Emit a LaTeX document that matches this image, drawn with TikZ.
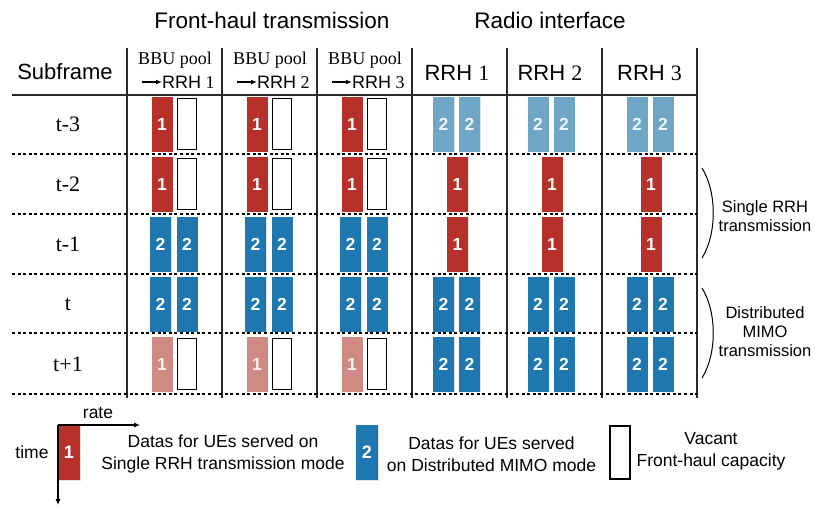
\documentclass[tikz,border=0pt]{standalone}
\usepackage{fontspec}
\setmainfont{Liberation Serif}
\setsansfont{Liberation Sans}
\usetikzlibrary{arrows.meta,shadows}
\definecolor{redblk}{HTML}{B8302A}
\definecolor{blueblk}{HTML}{1E77AE}
\definecolor{lblue}{HTML}{6FA6C5}
\definecolor{lred}{HTML}{D08A84}
\definecolor{gridline}{HTML}{2A2A2A}
\begin{document}
\begin{tikzpicture}[x=1pt,y=-1pt,
  blk/.style={minimum width=21pt,minimum height=55pt,inner sep=0pt,text=white,
    font=\sffamily\bfseries\fontsize{17.5}{17.5}\selectfont,
    drop shadow={shadow xshift=0.8pt,shadow yshift=-0.8pt,opacity=0.25}},
  one/.style={blk,fill=redblk},
  two/.style={blk,fill=blueblk},
  lone/.style={blk,fill=lred,text=white!88!lred},
  ltwo/.style={blk,fill=lblue,text=white!88!lblue},
  vac/.style={minimum width=19.5pt,minimum height=51pt,inner sep=0pt,draw=black,line width=1.3pt,fill=white},
  title/.style={font=\sffamily\fontsize{22.5}{22.5}\selectfont},
  rowlab/.style={font=\rmfamily\fontsize{22}{22}\selectfont},
  bbu/.style={font=\rmfamily\fontsize{18}{18}\selectfont,inner sep=0pt},
  rrh/.style={font=\sffamily\fontsize{22}{22}\selectfont,inner sep=0pt},
  gl/.style={draw=gridline,line width=1.4pt},
  dl/.style={draw=black,line width=1.2pt,dash pattern=on 3pt off 2.6pt},
  side/.style={font=\sffamily\fontsize{16.5}{19}\selectfont,align=center},
  leg/.style={font=\sffamily\fontsize{17.5}{22}\selectfont,align=center},
  lblk/.style={minimum width=22pt,minimum height=55pt,inner sep=0pt,text=white,
    font=\sffamily\bfseries\fontsize{18}{18}\selectfont,
    drop shadow={shadow xshift=0.8pt,shadow yshift=-0.8pt,opacity=0.25}},
  axis/.style={line width=1.1pt,-{Latex[length=6pt,width=5pt]}},
  harrow/.style={line width=1.3pt,-{Latex[length=6pt,width=5pt]}}
]
\useasboundingbox (0,0) rectangle (815,507);

% titles
\node[title] (fhtitle) at (272,20) {Front-haul transmission};
\node[title] (ritile) at (550,20) {Radio interface};

% header
\node[font=\sffamily\fontsize{22}{22}\selectfont] (subf) at (65,72) {Subframe};
\foreach \c/\x in {1/175,2/270,3/365}{
  \node[bbu] (bbu\c) at (\x,60) {BBU pool};
  \node[inner sep=0pt,anchor=west,font=\fontsize{18}{18}\selectfont] (to\c) at (\x-13,82) {{\sffamily RRH} \c};
  \coordinate (as\c) at (\x-33,82);
  \draw[harrow] (as\c) -- (to\c.west);
}
\foreach \c/\x in {1/457,2/550,3/649.5}{
  \node[rrh] (rrh\c) at (\x,73) {RRH {\rmfamily\c}};
}

% grid
\draw[gl] (12,95) -- (697,95);
\foreach \x in {127,222,317,412,507,602,697}{
  \draw[gl] (\x,48) -- (\x,398);
}
\foreach \y in {154,214,274,333,394}{
  \draw[dl] (12,\y) -- (697,\y);
}

% row labels
\foreach \r/\y/\t in {1/124/t-3,2/184/t-2,3/244/t-1,4/304/t,5/364/t+1}{
  \node[rowlab] (row\r) at (68,\y) {\t};
}

% front-haul blocks
\foreach \c/\xa/\xb in {1/162/187,2/257/282,3/352/377}{
  \node[one] (f\c r1a) at (\xa,124) {1};
  \node[vac] (f\c r1b) at (\xb,124) {};
  \node[one] (f\c r2a) at (\xa,184) {1};
  \node[vac] (f\c r2b) at (\xb,184) {};
  \node[two] (f\c r3a) at (\xa-1.5,244) {2};
  \node[two] (f\c r3b) at (\xb,244) {2};
  \node[two] (f\c r4a) at (\xa-1.5,304) {2};
  \node[two] (f\c r4b) at (\xb,304) {2};
  \node[lone] (f\c r5a) at (\xa,364) {1};
  \node[vac] (f\c r5b) at (\xb,364) {};
}

% radio blocks
\foreach \c/\x in {1/456.5,2/551,3/650}{
  \node[ltwo] (r\c r1a) at (\x-13,124) {2};
  \node[ltwo] (r\c r1b) at (\x+13,124) {2};
  \node[one] (r\c r2) at (\x+1,184) {1};
  \node[one] (r\c r3) at (\x+1,244) {1};
  \node[two] (r\c r4a) at (\x-13,304) {2};
  \node[two] (r\c r4b) at (\x+13,304) {2};
  \node[two] (r\c r5a) at (\x-13,364) {2};
  \node[two] (r\c r5b) at (\x+13,364) {2};
}

% braces
\draw[line width=1pt] (702,168) .. controls (717,192) and (717,234) .. (702,258);
\draw[line width=1pt] (702,288) .. controls (717,312) and (717,354) .. (702,378);
\node[side] (single) at (765,216) {Single RRH\\transmission};
\node[side] (dmimo) at (765,332) {Distributed\\MIMO\\transmission};

% legend
\node[lblk,fill=redblk] (lg1) at (69,452.5) {1};
\coordinate (org) at (58,425);
\coordinate (rateend) at (140,425);
\coordinate (timeend) at (58,505);
\draw[axis] (org) -- (rateend);
\draw[axis] (org) -- (timeend);
\node[leg] (rate) at (98,413) {rate};
\node[leg] (time) at (32,452) {time};
\node[leg] (lt1) at (223,454) {Datas for UEs served on\\Single RRH transmission mode};
\node[lblk,fill=blueblk] (lg2) at (367,452.5) {2};
\node[leg] (lt2) at (491.5,454) {Datas for UEs served\\on Distributed MIMO mode};
\node[minimum width=20pt,minimum height=53pt,inner sep=0pt,draw=black,line width=1.3pt] (lg3) at (620,452.5) {};
\node[leg] (lt3) at (711,451) {Vacant\\Front-haul capacity};
\end{tikzpicture}
\end{document}
